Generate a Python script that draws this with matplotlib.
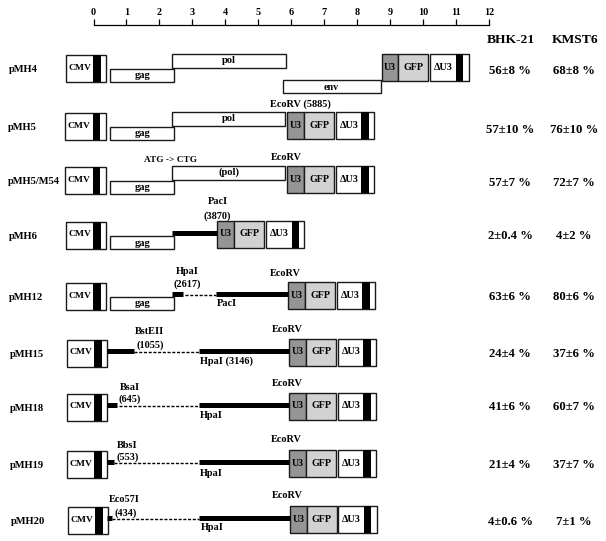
import matplotlib
matplotlib.use("Agg")
import matplotlib.pyplot as plt
from matplotlib.patches import Rectangle

plt.rcParams['font.family'] = ['Liberation Serif', 'DejaVu Serif']
plt.rcParams['font.weight'] = 'bold'
plt.rcParams['hatch.linewidth'] = 0.4

# one row per construct, positions along the genome in kb
constructs = ["pMH4", "pMH5", "pMH5/M54", "pMH6", "pMH12", "pMH15", "pMH18", "pMH19", "pMH20"]
bhk21 = ["56±8 %", "57±10 %", "57±7 %", "2±0.4 %", "63±6 %", "24±4 %", "41±6 %", "21±4 %", "4±0.6 %"]
kmst6 = ["68±8 %", "76±10 %", "72±7 %", "4±2 %", "80±6 %", "37±6 %", "60±7 %", "37±7 %", "7±1 %"]
ruler_ticks = list(range(13))

row_top = [55, 113, 167, 222, 283, 340, 394, 451, 507]
row_shift = [0.0, -0.02, -0.02, 0.0, 0.0, 0.03, 0.03, 0.03, 0.06]   # promoter box drifts a bit per row
value_dy = [16, 17, 16, 14, 14, 14, 13, 14, 15]
cassette_start = [8.74, 5.88, 5.88, 3.76, 5.91, 5.94, 5.94, 5.94, 5.96]

gag_rows = [0, 1, 2, 3, 4]
gag_span = (0.51, 2.45)
pol_rows = {0: ("pol", 5.83), 1: ("pol", 5.81), 2: ("(pol)", 5.81)}
pol_start = 2.39
env_span = (5.74, 8.71)

# (row, start, end) of the kept and deleted regions
solid_parts = [(3, 2.39, 3.76), (4, 2.39, 2.72), (4, 3.72, 5.91), (5, 0.42, 1.23), (5, 3.2, 5.94),
               (6, 0.42, 0.72), (6, 3.2, 5.94), (7, 0.42, 0.63), (7, 3.2, 5.94), (8, 0.42, 0.56), (8, 3.2, 5.96)]
dashed_parts = [(4, 2.78, 3.72), (5, 1.23, 3.2), (6, 0.78, 3.2), (7, 0.63, 3.2), (8, 0.56, 3.2)]

# (row, kb, y relative to row top, text)
site_labels = [
    (2, 5.85, -10, "EcoRV"), (2, 2.34, -7, "ATG -> CTG"),
    (3, 3.76, -20, "PacI"), (3, 3.76, -6, "(3870)"),
    (4, 2.84, -12, "HpaI"), (4, 2.84, 1, "(2617)"), (4, 4.05, 20, "PacI"), (4, 5.82, -10, "EcoRV"),
    (5, 1.71, -8, "BstEII"), (5, 1.71, 5, "(1055)"), (5, 4.05, 21, "HpaI (3146)"), (5, 5.87, -11, "EcoRV"),
    (6, 1.1, -7, "BsaI"), (6, 1.1, 5, "(645)"), (6, 3.57, 22, "HpaI"), (6, 5.87, -11, "EcoRV"),
    (7, 1.03, -6, "BbsI"), (7, 1.03, 6, "(553)"), (7, 3.57, 22, "HpaI"), (7, 5.85, -11, "EcoRV"),
    (8, 0.92, -7, "Eco57I"), (8, 0.98, 6, "(434)"), (8, 3.6, 21, "HpaI"), (8, 5.87, -11, "EcoRV"),
]

px = 32.96   # pixels per kb
fig = plt.figure(figsize=(6.06, 5.41), dpi=100)
ax = fig.add_axes([0, 0, 1, 1])
ax.set_xlim(-93.5 / px, (606 - 93.5) / px)
ax.set_ylim(541, 0)
ax.axis("off")

# ruler
rul = fig.add_axes([93.5 / 606, 1 - 25.5 / 541, 395.5 / 606, 0.001])
rul.set_xlim(0, 12)
rul.set_yticks([])
rul.patch.set_visible(False)
for s in ("left", "right", "bottom"):
    rul.spines[s].set_visible(False)
rul.spines["top"].set_linewidth(0.9)
rul.xaxis.tick_top()
rul.set_xticks(ruler_ticks)
rul.tick_params(axis="x", length=4.5, width=0.9, pad=1.5, labelsize=7.3)


def box(x0, x1, y0, y1, color="white", label=None, size=7.6, hatch=None, hatch_color=None, text_dy=-0.5):
    ax.add_patch(Rectangle((x0, y0), x1 - x0, y1 - y0, fc=color, ec="none", hatch=hatch,
                           **({"edgecolor": hatch_color} if hatch else {})))
    ax.add_patch(Rectangle((x0, y0), x1 - x0, y1 - y0, fc="none", ec="#1a1a1a", lw=1.0))
    if label:
        ax.text((x0 + x1) / 2, (y0 + y1) / 2 + text_dy, label, ha="center", va="center", fontsize=size)


def ltr_pair(top, start):
    y0, y1 = top - 1, top + 26
    box(start, start + 0.51, y0, y1, "#959595", "U3", 6.9, "......", "#6e6e6e")
    box(start + 0.51, start + 1.42, y0, y1, "#d2d2d2", "GFP", 7.2, "......", "#b4b4b4")
    box(start + 1.47, start + 2.64, y0, y1)
    ax.add_patch(Rectangle((start + 2.25, y0), 0.22, y1 - y0, fc="black", ec="none"))
    ax.text(start + 1.87, top + 12, "ΔU3", ha="center", va="center", fontsize=7.4)


for i, name in enumerate(constructs):
    top = row_top[i]
    shift = row_shift[i]
    ax.text(-2.58 + shift, top + 14.5, name, ha="left", va="center", fontsize=7.6)
    ax.text(12.64, top + value_dy[i], bhk21[i], ha="center", va="center", fontsize=9.2)
    ax.text(14.58, top + value_dy[i], kmst6[i], ha="center", va="center", fontsize=9.2)

    # promoter
    box(-0.83 + shift, 0.39 + shift, top, top + 26.5)
    ax.add_patch(Rectangle((0.0 + shift, top), 0.22, 26.5, fc="black", ec="none"))
    ax.text(-0.42 + shift, top + 12.5, "CMV", ha="center", va="center", fontsize=6.8)

    if i in gag_rows:
        box(gag_span[0], gag_span[1], top + 13.5, top + 26.5, label="gag", text_dy=1)
    if i in pol_rows:
        label, end = pol_rows[i]
        box(pol_start, end, top - 1, top + 12.5, label=label)
    if i == 0:
        box(env_span[0], env_span[1], top + 25, top + 38, label="env", size=7.2, text_dy=0.5)
    ltr_pair(top, cassette_start[i])

for r, x0, x1 in solid_parts:
    ax.plot([x0, x1], [row_top[r] + 10.5] * 2, color="black", lw=3.6, solid_capstyle="butt")
for r, x0, x1 in dashed_parts:
    ax.plot([x0, x1], [row_top[r] + 12] * 2, color="black", lw=1.0, dashes=(2.2, 1.2))
for r, x, dy, txt in site_labels:
    ax.text(x, row_top[r] + dy, txt, ha="center", va="center",
            fontsize=6.7 if txt.startswith("ATG") else 7.4)
ax.text(5.35, row_top[1] - 9, "EcoRV (5885)", ha="left", va="center", fontsize=7.4)

ax.text(12.67, 40, "BHK-21", ha="center", va="center", fontsize=9.7)
ax.text(14.6, 40, "KMST6", ha="center", va="center", fontsize=9.7)

fig.savefig("out.png", dpi=100)
